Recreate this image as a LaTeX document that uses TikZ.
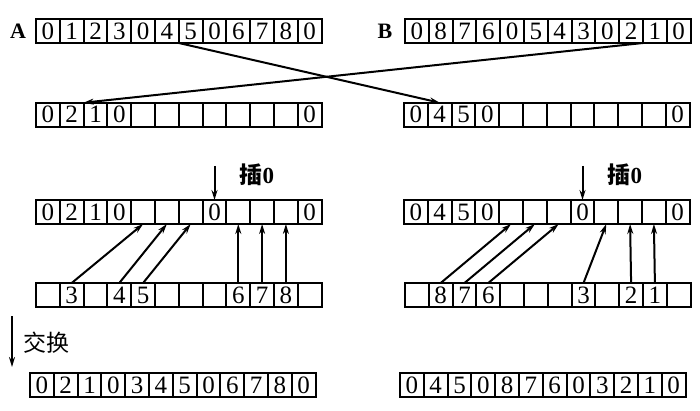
\documentclass[tikz,border=0pt]{standalone}
\usepackage{fontspec}
\setmainfont{Liberation Serif}
\newfontfamily\cjk{Noto Sans CJK SC}
\usetikzlibrary{arrows.meta, calc, positioning}

% one row of twelve cells: name, left x, centre y, digits
\newcommand\cellrow[4]{%
  \foreach \dig [count=\i] in {#4}
    \node[cell] (#1-\i) at ({#2+(\i-0.5)*23.8},#3) {\dig};}

\begin{document}
\begin{tikzpicture}[x=0.5pt, y=-0.5pt,% styles used in image code
         > = {Stealth[length=5pt, width=3pt]},
cell/.style = {draw, line width=1pt,
               minimum width=11.9pt, minimum height=12pt,
               inner sep=0pt, outer sep=0pt,
               font=\fontsize{12.5}{12}\selectfont},
 lab/.style = {font=\fontsize{11}{13}\selectfont\bfseries},
 han/.style = {font=\fontsize{11.5}{13}\selectfont},
 arr/.style = {->, line width=1pt}
                    ]
\useasboundingbox (0,0) rectangle (700,411);

	% the two input arrays
	\node[lab] (labA) at (18,31) {A};
	\node[lab] (labB) at (385,31) {B};
	\cellrow{A}{36}{31}{0,1,2,3,0,4,5,0,6,7,8,0}
	\cellrow{B}{405}{31}{0,8,7,6,0,5,4,3,0,2,1,0}

	% first parts moved over
	\cellrow{A1}{36}{114.7}{0,2,1,0,{},{},{},{},{},{},{},0}
	\cellrow{B1}{404}{114.7}{0,4,5,0,{},{},{},{},{},{},{},0}
	\draw[arr] (A-7.south west) -- (B1-2.north);
	\draw[arr] (B-10.south east) -- (A1-3.north west);

	% zero inserted
	\cellrow{A2}{36}{212}{0,2,1,0,{},{},{},0,{},{},{},0}
	\cellrow{B2}{404}{212}{0,4,5,0,{},{},{},0,{},{},{},0}
	\coordinate (insA) at ($(A2-8.north)+(0,-34)$);
	\coordinate (insB) at ($(B2-8.north)+(0,-34)$);
	\draw[arr] (insA) -- (A2-8.north);
	\draw[arr] (insB) -- (B2-8.north);
	\node[han, anchor=west] (insLA) at ($(insA)+(18,9)$) {{\cjk\bfseries 插}\textbf{0}};
	\node[han, anchor=west] (insLB) at ($(insB)+(18,9)$) {{\cjk\bfseries 插}\textbf{0}};

	% remaining digits
	\cellrow{A3}{36}{295}{{},3,{},4,5,{},{},{},6,7,8,{}}
	\cellrow{B3}{405}{295}{{},8,7,6,{},{},{},3,{},2,1,{}}
	\foreach \s/\t in {2/5,4/6,5/7,9/9,10/10,11/11}
		\draw[arr] (A3-\s.north) -- (A2-\t.south);
	\foreach \s/\t in {2/5,3/6,4/7,8/9,10/10,11/11}
		\draw[arr] (B3-\s.north) -- (B2-\t.south);

	% after the swap
	\coordinate (swapS) at (12,316);
	\coordinate (swapE) at (12,367);
	\draw[arr] (swapS) -- (swapE);
	\node[han, anchor=west] (swap) at (16,343) {\cjk 交换};
	\cellrow{A4}{30}{385}{0,2,1,0,3,4,5,0,6,7,8,0}
	\cellrow{B4}{400}{385}{0,4,5,0,8,7,6,0,3,2,1,0}
\end{tikzpicture}
\end{document}
